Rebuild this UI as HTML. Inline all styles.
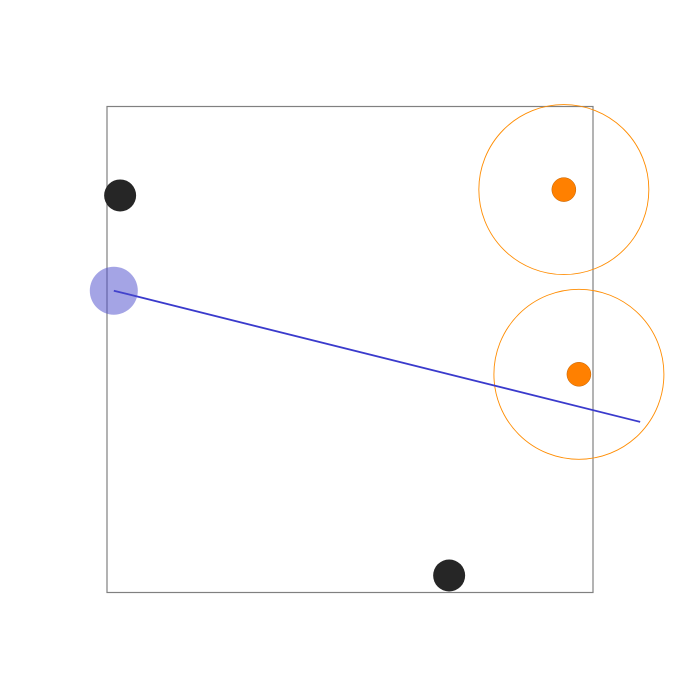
<!DOCTYPE html>
<html>
<head>
<meta charset="utf-8">
<style>
  html, body { margin: 0; padding: 0; background: #ffffff; }
  svg { display: block; font-family: "Liberation Sans", sans-serif; }
</style>
</head>
<body>
<svg id="chart" width="700" height="700" viewBox="0 0 700 700">
  <rect x="0" y="0" width="700" height="700" fill="#ffffff"></rect>
  <rect x="107" y="106.5" width="486" height="486" fill="none" stroke="#808080" stroke-width="1.2"></rect>
  <g id="marks"></g>
</svg>
<script>
const blackX = [0.27, 7.04];
const blackY = [8.17, 0.35];
const blueX = [0.14];
const blueY = [6.21];
const lineX = [0.14, 10.97];
const lineY = [6.21, 3.51];
const orangeX = [9.40, 9.71];
const orangeY = [8.29, 4.49];

const X0 = 107, Y0 = 592.5, PX = 48.6;
function sx(v) { return X0 + v * PX; }
function sy(v) { return Y0 - v * PX; }

const NS = 'http://www.w3.org/2000/svg';
const g = document.getElementById('marks');
function mk(tag, attrs) {
  const e = document.createElementNS(NS, tag);
  for (const k in attrs) e.setAttribute(k, attrs[k]);
  g.appendChild(e);
  return e;
}

for (let i = 0; i < orangeX.length; i++) {
  const ring = mk('circle', {cx: sx(orangeX[i]), cy: sy(orangeY[i]), r: 85, fill: 'none', stroke: '#ff8c00', 'stroke-width': 0.9});
  
  
}

const line = mk('line', {x1: sx(lineX[0]), y1: sy(lineY[0]), x2: sx(lineX[1]), y2: sy(lineY[1]), stroke: '#3a3acc', 'stroke-width': 1.8});



for (let i = 0; i < blueX.length; i++) {
  const c = mk('circle', {cx: sx(blueX[i]), cy: sy(blueY[i]), r: 24, fill: '#4a4acc', 'fill-opacity': 0.5});
  
  
}

for (let i = 0; i < blackX.length; i++) {
  const c = mk('circle', {cx: sx(blackX[i]), cy: sy(blackY[i]), r: 16, fill: '#262626'});
  
  
}

for (let i = 0; i < orangeX.length; i++) {
  const c = mk('circle', {cx: sx(orangeX[i]), cy: sy(orangeY[i]), r: 12, fill: '#ff8000', stroke: '#c06000', 'stroke-width': 0.5});
  
  
}
</script>
</body>
</html>
